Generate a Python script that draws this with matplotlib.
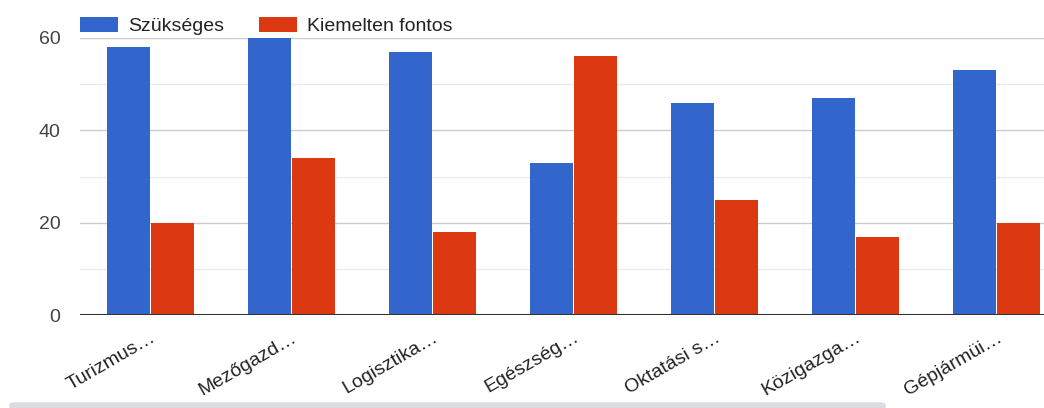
import numpy as np
import matplotlib.pyplot as plt
from matplotlib.patches import FancyBboxPatch

plt.rcParams['font.family'] = ['Liberation Sans', 'DejaVu Sans']

categories = ["Turizmus…", "Mezőgazd…", "Logisztika…", "Egészség…",
              "Oktatási s…", "Közigazga…", "Gépjármüi…"]
szukseges = [58, 60, 57, 33, 46, 47, 53]
kiemelten = [20, 34, 18, 56, 25, 17, 20]

BLUE = "#3366cc"
RED = "#dc3912"


def main():
    fig = plt.figure(figsize=(10.44, 4.08), dpi=100)
    ax = fig.add_axes([80 / 1044, 93 / 408, 987 / 1044, 277 / 408])

    x = np.arange(len(categories))
    w = 0.305
    ax.bar(x - 0.155, szukseges, w, color=BLUE, label="Szükséges", zorder=3)
    ax.bar(x + 0.155, kiemelten, w, color=RED, label="Kiemelten fontos", zorder=3)

    ax.set_xlim(-0.5, len(categories) - 0.5)
    ax.set_ylim(0, 60)
    ax.set_yticks([0, 20, 40, 60])
    ax.set_yticks([10, 30, 50], minor=True)
    ax.grid(axis='y', which='major', color='#cccccc', lw=1, zorder=0)
    ax.grid(axis='y', which='minor', color='#ebebeb', lw=1, zorder=0)
    ax.axhline(0, color='#333333', lw=1.5, zorder=4)

    for s in ax.spines.values():
        s.set_visible(False)
    ax.tick_params(axis='both', which='both', length=0)
    ax.tick_params(axis='y', labelsize=14, labelcolor='#444444', pad=14)
    ax.set_xticks(x)
    ax.set_xticklabels(categories, rotation=30, ha='right', rotation_mode='anchor',
                       fontsize=14, color='#222222')
    ax.tick_params(axis='x', pad=10)

    ax.legend(loc='center left', bbox_to_anchor=(0, 1.0 + 12 / 277), ncol=2, frameon=False,
              fontsize=14, handlelength=1.95, handleheight=0.87, columnspacing=1.8,
              handletextpad=0.51, borderaxespad=0, borderpad=0, labelcolor='#222222')

    # scrollbar strip at the bottom
    fig.patches.append(FancyBboxPatch((10 / 1044, -10 / 408), 875 / 1044, 15 / 408,
                                      boxstyle="round,pad=0,rounding_size=0.005",
                                      transform=fig.transFigure, color='#dadce0',
                                      zorder=0))

    fig.savefig("out.png", dpi=100)


if __name__ == "__main__":
    main()
